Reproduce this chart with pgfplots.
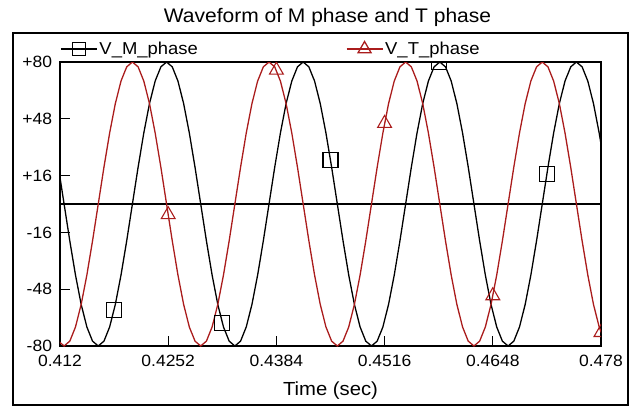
\documentclass[border=0pt]{standalone}
\usepackage{fontspec}
\setmainfont{Liberation Sans}[FakeStretch=1.07]
\usepackage{pgfplots}
\pgfplotsset{compat=1.18}
\usepackage{pgfplotstable}
\definecolor{tred}{RGB}{170,28,28}

\pgfplotstableread{
t vm vt
0.411806 20.71 -77.27
0.412500 0 -80
0.413194 -20.71 -77.27
0.413889 -40 -69.28
0.414583 -56.57 -56.57
0.415278 -69.28 -40
0.415972 -77.27 -20.71
0.416667 -80 0
0.417361 -77.27 20.71
0.418056 -69.28 40
0.418750 -56.57 56.57
0.419444 -40 69.28
0.420139 -20.71 77.27
0.420833 0 80
0.421528 20.71 77.27
0.422222 40 69.28
0.422917 56.57 56.57
0.423611 69.28 40
0.424306 77.27 20.71
0.425000 80 0
0.425694 77.27 -20.71
0.426389 69.28 -40
0.427083 56.57 -56.57
0.427778 40 -69.28
0.428472 20.71 -77.27
0.429167 0 -80
0.429861 -20.71 -77.27
0.430556 -40 -69.28
0.431250 -56.57 -56.57
0.431944 -69.28 -40
0.432639 -77.27 -20.71
0.433333 -80 0
0.434028 -77.27 20.71
0.434722 -69.28 40
0.435417 -56.57 56.57
0.436111 -40 69.28
0.436806 -20.71 77.27
0.437500 0 80
0.438194 20.71 77.27
0.438889 40 69.28
0.439583 56.57 56.57
0.440278 69.28 40
0.440972 77.27 20.71
0.441667 80 0
0.442361 77.27 -20.71
0.443056 69.28 -40
0.443750 56.57 -56.57
0.444444 40 -69.28
0.445139 20.71 -77.27
0.445833 0 -80
0.446528 -20.71 -77.27
0.447222 -40 -69.28
0.447917 -56.57 -56.57
0.448611 -69.28 -40
0.449306 -77.27 -20.71
0.450000 -80 0
0.450694 -77.27 20.71
0.451389 -69.28 40
0.452083 -56.57 56.57
0.452778 -40 69.28
0.453472 -20.71 77.27
0.454167 0 80
0.454861 20.71 77.27
0.455556 40 69.28
0.456250 56.57 56.57
0.456944 69.28 40
0.457639 77.27 20.71
0.458333 80 0
0.459028 77.27 -20.71
0.459722 69.28 -40
0.460417 56.57 -56.57
0.461111 40 -69.28
0.461806 20.71 -77.27
0.462500 0 -80
0.463194 -20.71 -77.27
0.463889 -40 -69.28
0.464583 -56.57 -56.57
0.465278 -69.28 -40
0.465972 -77.27 -20.71
0.466667 -80 0
0.467361 -77.27 20.71
0.468056 -69.28 40
0.468750 -56.57 56.57
0.469444 -40 69.28
0.470139 -20.71 77.27
0.470833 0 80
0.471528 20.71 77.27
0.472222 40 69.28
0.472917 56.57 56.57
0.473611 69.28 40
0.474306 77.27 20.71
0.475000 80 0
0.475694 77.27 -20.71
0.476389 69.28 -40
0.477083 56.57 -56.57
0.477778 40 -69.28
0.478472 20.71 -77.27
}\wave

\pgfplotstableread{
t v
0.4186 -59.7
0.4318 -67.0
0.4450 24.7
0.4582 79.9
0.4714 17.0
}\msq

\pgfplotstableread{
t v
0.4252 -6.0
0.4384 75.4
0.4516 45.4
0.4648 -51.7
0.4780 -72.4
}\ttri

\begin{document}
\begin{tikzpicture}
\begin{axis}[
  name=ax, at={(0,0)}, anchor=south west,
  scale only axis, width=541bp, height=284bp,
  xmin=0.412, xmax=0.478, ymin=-80, ymax=80,
  xtick={0.412,0.4252,0.4384,0.4516,0.4648,0.478},
  xticklabels={0.412,0.4252,0.4384,0.4516,0.4648,0.478},
  ytick={-80,-48,-16,16,48,80},
  yticklabels={-80,-48,-16,+16,+48,+80},
  xtick pos=bottom, ytick pos=left, tick align=inside,
  major tick length=10bp,
  tick style={black, line width=1bp},
  axis line style={line width=1.2bp},
  ticklabel style={font=\fontsize{16.4}{19}\selectfont},
  xticklabel style={yshift=-5.5bp},
  yticklabel style={xshift=-4.5bp},
  xlabel={Time (sec)},
  xlabel style={font=\fontsize{19}{22}\selectfont, at={(axis description cs:0.5,-0.158)}, anchor=center},
  clip marker paths=true,
  legend columns=2,
  legend cell align=left,
  legend image code/.code={\draw[mark repeat=2,mark phase=2,#1] plot coordinates {(0bp,0bp) (18bp,0bp) (36bp,0bp)};},
  legend style={at={(0,1.0458)}, anchor=west, draw=none, fill=none, inner sep=0pt,
    font=\fontsize{17.3}{20}\selectfont,
    /tikz/every even column/.append style={column sep=146bp}},
]
\addlegendimage{black, line width=1.3bp, mark=square, mark size=6.5bp}
\addlegendentry{V\_M\_phase}
\addlegendimage{tred, line width=1.3bp, mark=triangle, mark size=7.5bp}
\addlegendentry{V\_T\_phase}
\addplot[black, line width=1.1bp, forget plot] coordinates {(0.412,0) (0.478,0)};
\addplot[black, line width=1.3bp, forget plot] table[x=t, y=vm] {\wave};
\addplot[tred, line width=1.3bp, forget plot] table[x=t, y=vt] {\wave};
\addplot[only marks, black, mark=square, mark size=7.5bp, mark options={line width=1.1bp}, forget plot] table[x=t, y=v] {\msq};
\addplot[only marks, tred, mark=triangle, mark size=8bp, mark options={line width=1.1bp}, forget plot] table[x=t, y=v] {\ttri};
\end{axis}
\node[font=\fontsize{19.7}{23}\selectfont, anchor=center] at (267.5bp,329bp) {Waveform of M phase and T phase};
\draw[line width=1.6bp] (-47bp,-59bp) rectangle (568bp,313bp);
\pgfresetboundingbox
\path[use as bounding box] (-60bp,-62bp) rectangle (572bp,346bp);
\end{tikzpicture}
\end{document}
